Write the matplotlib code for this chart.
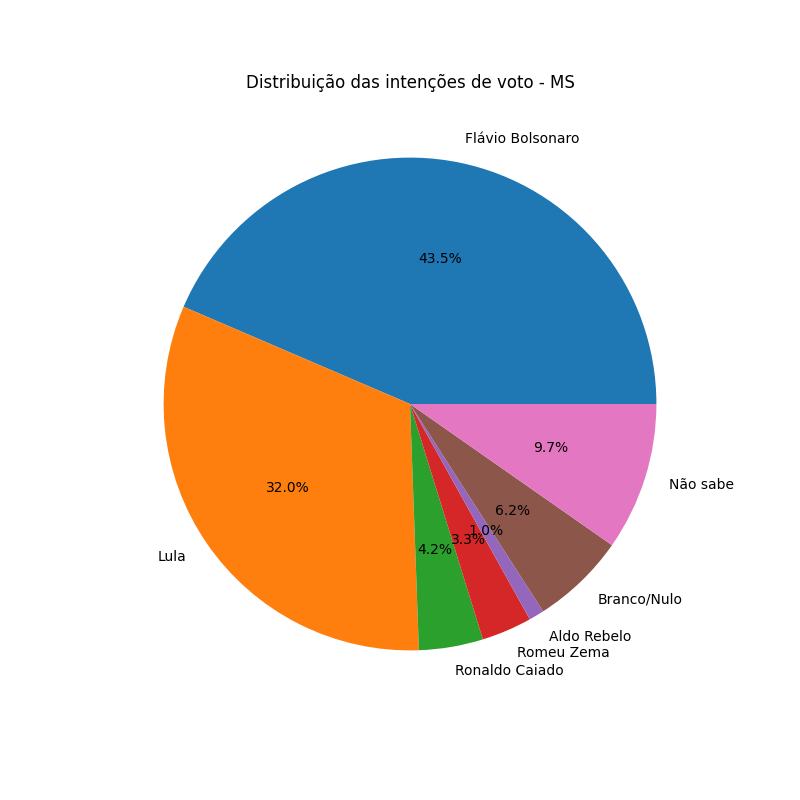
import matplotlib
matplotlib.use("Agg")
import matplotlib.pyplot as plt

candidatos = ["Flávio Bolsonaro", "Lula", "Ronaldo Caiado", "Romeu Zema",
              "Aldo Rebelo", "Branco/Nulo", "Não sabe"]
votos = [43.5, 32.0, 4.2, 3.3, 1.0, 6.2, 9.7]

plt.figure(figsize=(8, 8), dpi=100)
plt.pie(votos, labels=candidatos, autopct="%1.1f%%")
plt.title("Distribuição das intenções de voto - MS")
plt.savefig("out.png")
plt.close()
